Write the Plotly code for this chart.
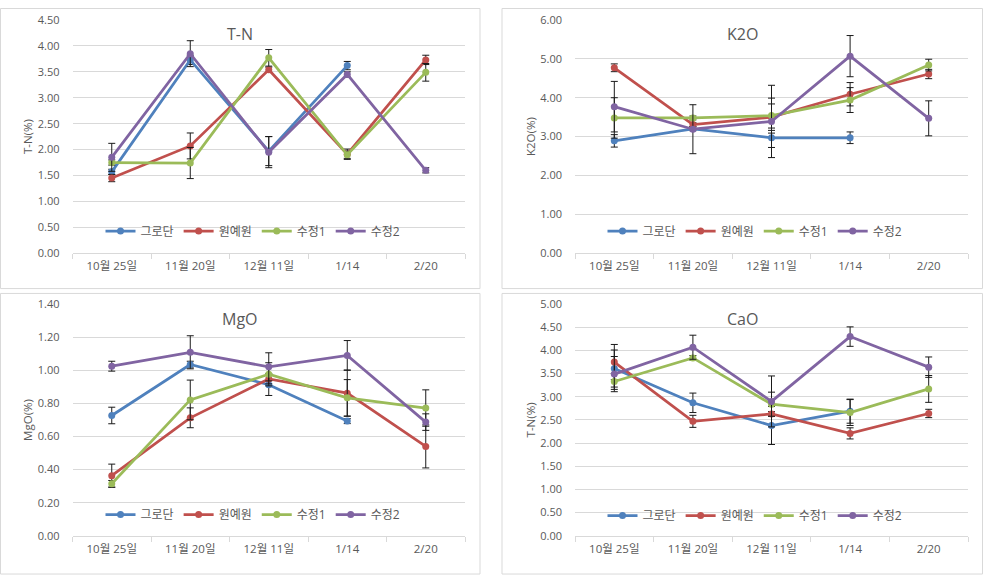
import plotly.graph_objects as go

categories = ["10월 25일", "11월 20일", "12월 11일", "1/14", "2/20"]
series_names = ["그로단", "원예원", "수정1", "수정2"]
colors = ["#4F81BD", "#C0504D", "#9BBB59", "#8064A2"]

# T-N
tn_grodan = [1.57, 3.73, 1.97, 3.62, None]
tn_wonye = [1.45, 2.07, 3.54, 1.91, 3.73]
tn_sujeong1 = [1.75, 1.74, 3.77, 1.90, 3.49]
tn_sujeong2 = [1.85, 3.85, 1.95, 3.45, 1.60]
tn_err_grodan = [0.05, 0.09, 0.28, 0.08, 0]
tn_err_wonye = [0.07, 0.25, 0.05, 0.10, 0.09]
tn_err_sujeong1 = [0.05, 0.30, 0.16, 0.07, 0.17]
tn_err_sujeong2 = [0.27, 0.25, 0.30, 0.05, 0.05]

# K2O
k2o_grodan = [2.89, 3.20, 2.97, 2.97, None]
k2o_wonye = [4.77, 3.31, 3.50, 4.09, 4.61]
k2o_sujeong1 = [3.48, 3.48, 3.54, 3.94, 4.84]
k2o_sujeong2 = [3.77, 3.19, 3.39, 5.07, 3.47]
k2o_err_grodan = [0.16, 0.05, 0.25, 0.15, 0]
k2o_err_wonye = [0.10, 0.05, 0.34, 0.30, 0.12]
k2o_err_sujeong1 = [0.52, 0.05, 0.45, 0.32, 0.15]
k2o_err_sujeong2 = [0.65, 0.63, 0.93, 0.53, 0.45]

# MgO
mgo_grodan = [0.727, 1.035, 0.913, 0.693, None]
mgo_wonye = [0.363, 0.713, 0.948, 0.862, 0.540]
mgo_sujeong1 = [0.314, 0.821, 0.976, 0.834, 0.772]
mgo_sujeong2 = [1.025, 1.109, 1.021, 1.090, 0.687]
mgo_err_grodan = [0.05, 0.02, 0.065, 0.015, 0]
mgo_err_wonye = [0.07, 0.06, 0.03, 0.14, 0.13]
mgo_err_sujeong1 = [0.02, 0.12, 0.07, 0.11, 0.11]
mgo_err_sujeong2 = [0.03, 0.10, 0.085, 0.09, 0.05]

# CaO
cao_grodan = [3.61, 2.87, 2.38, 2.69, None]
cao_wonye = [3.75, 2.47, 2.63, 2.21, 2.64]
cao_sujeong1 = [3.33, 3.84, 2.84, 2.66, 3.17]
cao_sujeong2 = [3.49, 4.07, 2.90, 4.30, 3.64]
cao_err_grodan = [0.40, 0.21, 0.41, 0.26, 0]
cao_err_wonye = [0.38, 0.13, 0.05, 0.12, 0.09]
cao_err_sujeong1 = [0.17, 0.05, 0.26, 0.28, 0.29]
cao_err_sujeong2 = [0.38, 0.26, 0.55, 0.21, 0.22]

panel_titles = ["T-N", "K2O", "MgO", "CaO"]
y_titles = ["T-N(%)", "K2O(%)", "MgO(%)", "T-N(%)"]
y_max = [4.5, 6.0, 1.4, 5.0]
y_dtick = [0.5, 1.0, 0.2, 0.5]

panels = [
    ([tn_grodan, tn_wonye, tn_sujeong1, tn_sujeong2],
     [tn_err_grodan, tn_err_wonye, tn_err_sujeong1, tn_err_sujeong2]),
    ([k2o_grodan, k2o_wonye, k2o_sujeong1, k2o_sujeong2],
     [k2o_err_grodan, k2o_err_wonye, k2o_err_sujeong1, k2o_err_sujeong2]),
    ([mgo_grodan, mgo_wonye, mgo_sujeong1, mgo_sujeong2],
     [mgo_err_grodan, mgo_err_wonye, mgo_err_sujeong1, mgo_err_sujeong2]),
    ([cao_grodan, cao_wonye, cao_sujeong1, cao_sujeong2],
     [cao_err_grodan, cao_err_wonye, cao_err_sujeong1, cao_err_sujeong2]),
]

W, H = 983, 582
FONT = "Open Sans, Noto Sans CJK KR, sans-serif"
TXT = "#595959"
GRID = "#D9D9D9"

def fx(px):
    return px / W

def fy(py):
    return 1 - py / H

# plot-area boxes in pixels: (left, right, top, bottom)
areas = [(72.5, 465, 12.3, 251.7), (575, 968, 12.3, 251.7),
         (72.5, 465, 304, 541.7), (575, 968, 304, 541.7)]
frames = [(0.5, 480, 0.5, 288), (502, 982.5, 0.5, 288),
          (0.5, 480, 293, 581), (502, 982.5, 293, 581)]
legend_pos = [(253, 229), (755, 229), (253, 520), (755, 521)]

fig = go.Figure()
layout = dict(width=W, height=H, autosize=False,
              margin=dict(l=0, r=0, t=0, b=0),
              paper_bgcolor="white", plot_bgcolor="white",
              font=dict(family=FONT, color=TXT, size=11),
              shapes=[], annotations=[])

for p in range(4):
    sfx = "" if p == 0 else str(p + 1)
    xa, ya = "x" + sfx, "y" + sfx
    leg = "legend" + sfx
    vals, errs = panels[p]
    for s in range(4):
        fig.add_trace(go.Scatter(
            x=categories, y=vals[s], name=series_names[s],
            mode="lines+markers", xaxis=xa, yaxis=ya, legend=leg,
            showlegend=True, cliponaxis=False,
            line=dict(color=colors[s], width=2.75),
            marker=dict(color=colors[s], size=7, symbol="circle"),
            error_y=dict(type="data", array=errs[s], visible=True,
                         color="#1a1a1a", thickness=1, width=3.5),
        ))
    l, r, t, b = areas[p]
    layout["xaxis" + sfx] = dict(
        domain=[fx(l), fx(r)], anchor=ya, type="category",
        categoryorder="array", categoryarray=categories,
        range=[-0.5, len(categories) - 0.5], autorange=False,
        showgrid=False, showline=True, linecolor=GRID, linewidth=1,
        ticks="outside", tickson="boundaries", ticklen=5, tickcolor=GRID,
        tickfont=dict(size=11.5, color=TXT), ticklabelstandoff=2,
        zeroline=False, fixedrange=True)
    layout["yaxis" + sfx] = dict(
        domain=[fy(b), fy(t)], anchor=xa, range=[0, y_max[p]],
        dtick=y_dtick[p], tick0=0, tickformat=".2f",
        showgrid=True, gridcolor=GRID, gridwidth=1,
        zeroline=False, showline=False, ticks="",
        tickfont=dict(size=11, color=TXT), ticklabelstandoff=12,
        title=dict(text=y_titles[p], font=dict(size=11.5, color=TXT), standoff=2),
        fixedrange=True)
    lx, ly = legend_pos[p]
    layout[leg] = dict(orientation="h", x=fx(lx), y=fy(ly),
                       xanchor="center", yanchor="middle",
                       bgcolor="rgba(0,0,0,0)", font=dict(size=12, color=TXT),
                       itemwidth=30, tracegroupgap=0)
    fl, fr, ft, fb = frames[p]
    layout["shapes"].append(dict(type="rect", xref="paper", yref="paper",
                                 x0=fx(fl), x1=fx(fr), y0=fy(fb), y1=fy(ft),
                                 line=dict(color=GRID, width=1), layer="below"))
    cx = (fl + fr) / 2
    ty = 27 if p < 2 else 319
    layout["annotations"].append(dict(text=panel_titles[p], xref="paper", yref="paper",
                                      x=fx(cx), y=fy(ty), xanchor="center", yanchor="middle",
                                      showarrow=False, font=dict(size=16, color=TXT)))

fig.update_layout(**layout)
fig.write_html("out.html",
               config={"displayModeBar": False},
               post_script="document.body.style.margin='0';document.body.style.overflow='hidden';")
